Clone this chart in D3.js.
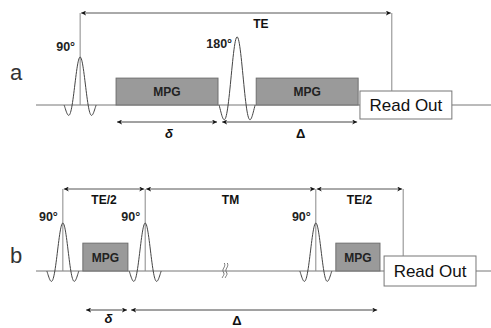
<!DOCTYPE html>
<html>
<head>
<meta charset="utf-8">
<script src="https://cdn.jsdelivr.net/npm/d3@7"></script>
<style>
  body { margin: 0; background: #fff; }
  svg { display: block; font-family: "Liberation Sans", Arial, sans-serif; }
</style>
</head>
<body>
<svg id="chart" width="491" height="328"></svg>
<script>
// Sequence timing, arbitrary time units (0..100 across the page).
// Panel a: spin echo with two motion probing gradients
const pulsesA = [
  { t: 9.7, flip: "90°", amp: 1 },
  { t: 44.2, flip: "180°", amp: 1.42 },
];
const mpgA = [[17.6, 40.0], [48.4, 70.8]];
const readoutA = [71.2, 91.4];
const timingA = [{ from: 9.7, to: 78.2, label: "TE" }];
const diffusionA = [
  { from: 17.6, to: 40.0, label: "δ" },
  { from: 40.7, to: 70.8, label: "Δ" },
];

// Panel b: stimulated echo
const pulsesB = [
  { t: 5.9, flip: "90°", amp: 1 },
  { t: 24.0, flip: "90°", amp: 1 },
  { t: 61.5, flip: "90°", amp: 1 },
];
const mpgB = [[10.3, 20.2], [65.9, 75.6]];
const readoutB = [76.5, 96.7];
const timingB = [
  { from: 5.9, to: 24.0, label: "TE/2" },
  { from: 24.0, to: 61.5, label: "TM" },
  { from: 61.5, to: 80.7, label: "TE/2" },
];
const diffusionB = [
  { from: 10.8, to: 20.2, label: "δ" },
  { from: 20.7, to: 75.2, label: "Δ" },
];
const breakB = [41.5];

const panelNames = ["a", "b"];

const svg = d3.select("#chart");
const x = d3.scaleLinear().domain([0, 100]).range([36, 491]);
// amplitude -> pixel offset above the baseline
const y = d3.scaleLinear().domain([0, 1]).range([0, -48]);

const defs = svg.append("defs");
defs.append("marker")
  .attr("id", "head")
  .attr("viewBox", "0 -5 10 10")
  .attr("refX", 10).attr("refY", 0)
  .attr("markerWidth", 5).attr("markerHeight", 5)
  .attr("markerUnits", "userSpaceOnUse")
  .attr("orient", "auto-start-reverse")
  .append("path")
  .attr("d", "M0,-5L10,0L0,5L3,0Z")
  .attr("fill", "#111");

// sinc-shaped rf pulse, two side lobes
function pulsePath(p, halfWidth) {
  const pts = d3.range(-2, 2.001, 0.05).map((u) => {
    const s = u === 0 ? 1 : Math.sin(Math.PI * u) / (Math.PI * u);
    return [x(p.t) + u * halfWidth, y(p.amp * s)];
  });
  return d3.line().curve(d3.curveBasis)(pts);
}

const panels = [
  { name: "a", base: 105, pulses: pulsesA, mpg: mpgA, ro: readoutA, timing: timingA,
    diff: diffusionA, breaks: [], timeY: 13, diffY: 17, labelY: 33, roEdge: 91,
    markers: [pulsesA[0].t], endMarker: timingA[0].to, mpgH: 0.56 },
  { name: "b", base: 271, pulses: pulsesB, mpg: mpgB, ro: readoutB, timing: timingB,
    diff: diffusionB, breaks: breakB, timeY: 189, diffY: 39, labelY: 54, roEdge: 256,
    markers: pulsesB.map((d) => d.t), endMarker: timingB[2].to, mpgH: 0.58 },
];

panels.forEach((P, i) => {
  const g = svg.append("g").attr("transform", `translate(0,${P.base})`);
  const top = P.timeY - P.base;

  // panel letter
  g.append("text")
    .attr("x", 10).attr("y", i === 0 ? -25 : -8)
    .attr("font-size", 22).attr("fill", "#333")
    .text(panelNames[i]);

  // baseline
  g.append("line")
    .attr("x1", x(0)).attr("x2", 491)
    .attr("y1", 0).attr("y2", 0)
    .attr("stroke", "#777").attr("stroke-width", 1);

  // break mark
  g.selectAll("path.brk")
    .data(P.breaks)
    .join("path")
    .attr("class", "brk")
    .attr("d", (t) => {
      const cx = x(t);
      return [-1.5, 1.5].map((dx) =>
        `M${cx + dx + 1},-8 C${cx + dx + 3},-4 ${cx + dx - 2},-2 ${cx + dx},1 S${cx + dx - 1},5 ${cx + dx - 1},7`
      ).join(" ");
    })
    .attr("fill", "none").attr("stroke", "#777").attr("stroke-width", 1);

  // MPG gradients
  g.selectAll("rect.mpg")
    .data(P.mpg)
    .join("rect")
    .attr("class", "mpg")
    .attr("x", (d) => x(d[0]))
    .attr("width", (d) => x(d[1]) - x(d[0]))
    .attr("y", y(P.mpgH))
    .attr("height", -y(P.mpgH))
    .attr("fill", "#9a9a9a").attr("stroke", "#6f6f6f");
  g.selectAll("text.mpg")
    .data(P.mpg)
    .join("text")
    .attr("class", "mpg")
    .attr("x", (d) => (x(d[0]) + x(d[1])) / 2)
    .attr("y", y(P.mpgH) / 2 + 4.5)
    .attr("text-anchor", "middle")
    .attr("font-size", 12).attr("font-weight", "bold").attr("fill", "#222")
    .text("MPG");

  // read out box
  g.append("rect")
    .attr("x", x(P.ro[0]))
    .attr("width", x(P.ro[1]) - x(P.ro[0]))
    .attr("y", P.roEdge - P.base)
    .attr("height", 2 * (P.base - P.roEdge))
    .attr("fill", "#fff").attr("stroke", "#777");
  g.append("text")
    .attr("x", (x(P.ro[0]) + x(P.ro[1])) / 2)
    .attr("y", 6)
    .attr("text-anchor", "middle")
    .attr("font-size", 17).attr("fill", "#111")
    .text("Read Out");

  // vertical timing markers
  g.selectAll("line.mark")
    .data(P.markers)
    .join("line")
    .attr("class", "mark")
    .attr("x1", (t) => x(t)).attr("x2", (t) => x(t))
    .attr("y1", top).attr("y2", 0)
    .attr("stroke", "#888");
  g.append("line")
    .attr("x1", x(P.endMarker)).attr("x2", x(P.endMarker))
    .attr("y1", top).attr("y2", P.roEdge - P.base)
    .attr("stroke", "#888");

  // rf pulses
  g.selectAll("path.rf")
    .data(P.pulses)
    .join("path")
    .attr("class", "rf")
    .attr("d", (d) => pulsePath(d, d.amp > 1 ? 9 : 8))
    .attr("fill", "none").attr("stroke", "#444").attr("stroke-width", 1);
  g.selectAll("text.rf")
    .data(P.pulses)
    .join("text")
    .attr("class", "rf")
    .attr("x", (d) => x(d.t) - 5)
    .attr("y", (d) => (i === 0 ? (d.amp > 1 ? -57 : -54) : -50))
    .attr("text-anchor", "end")
    .attr("font-size", 12.5).attr("font-weight", "bold").attr("fill", "#222")
    .text((d) => d.flip);

  // timing arrows
  g.selectAll("line.time")
    .data(P.timing)
    .join("line")
    .attr("class", "time")
    .attr("x1", (d) => x(d.from) + 1).attr("x2", (d) => x(d.to) - 1)
    .attr("y1", top).attr("y2", top)
    .attr("stroke", "#555")
    .attr("marker-start", "url(#head)").attr("marker-end", "url(#head)");
  g.selectAll("text.time")
    .data(P.timing)
    .join("text")
    .attr("class", "time")
    .attr("x", (d) => (d.label === "TE" && i === 0 ? x(d.from) + 0.58 * (x(d.to) - x(d.from)) : (x(d.from) + x(d.to)) / 2))
    .attr("y", top + 14.5)
    .attr("text-anchor", "middle")
    .attr("font-size", 12).attr("font-weight", "bold").attr("fill", "#111")
    .text((d) => d.label);

  // diffusion time arrows
  g.selectAll("line.diff")
    .data(P.diff)
    .join("line")
    .attr("class", "diff")
    .attr("x1", (d) => x(d.from) + 1).attr("x2", (d) => x(d.to) - 1)
    .attr("y1", P.diffY).attr("y2", P.diffY)
    .attr("stroke", "#444")
    .attr("marker-start", "url(#head)").attr("marker-end", "url(#head)");
  g.selectAll("text.diff")
    .data(P.diff)
    .join("text")
    .attr("class", "diff")
    .attr("x", (d) => (d.label === "Δ" ? (i === 0 ? x(d.from) + 0.58 * (x(d.to) - x(d.from)) : x(d.from) + 0.43 * (x(d.to) - x(d.from))) : (x(d.from) + x(d.to)) / 2 + 2))
    .attr("y", (d) => P.labelY - (d.label === "δ" && i === 1 ? 2 : 0))
    .attr("text-anchor", "middle")
    .attr("font-size", 13).attr("font-weight", "bold")
    .attr("font-style", (d) => (d.label === "δ" ? "italic" : "normal"))
    .attr("fill", "#111")
    .text((d) => d.label);
});
</script>
</body>
</html>
